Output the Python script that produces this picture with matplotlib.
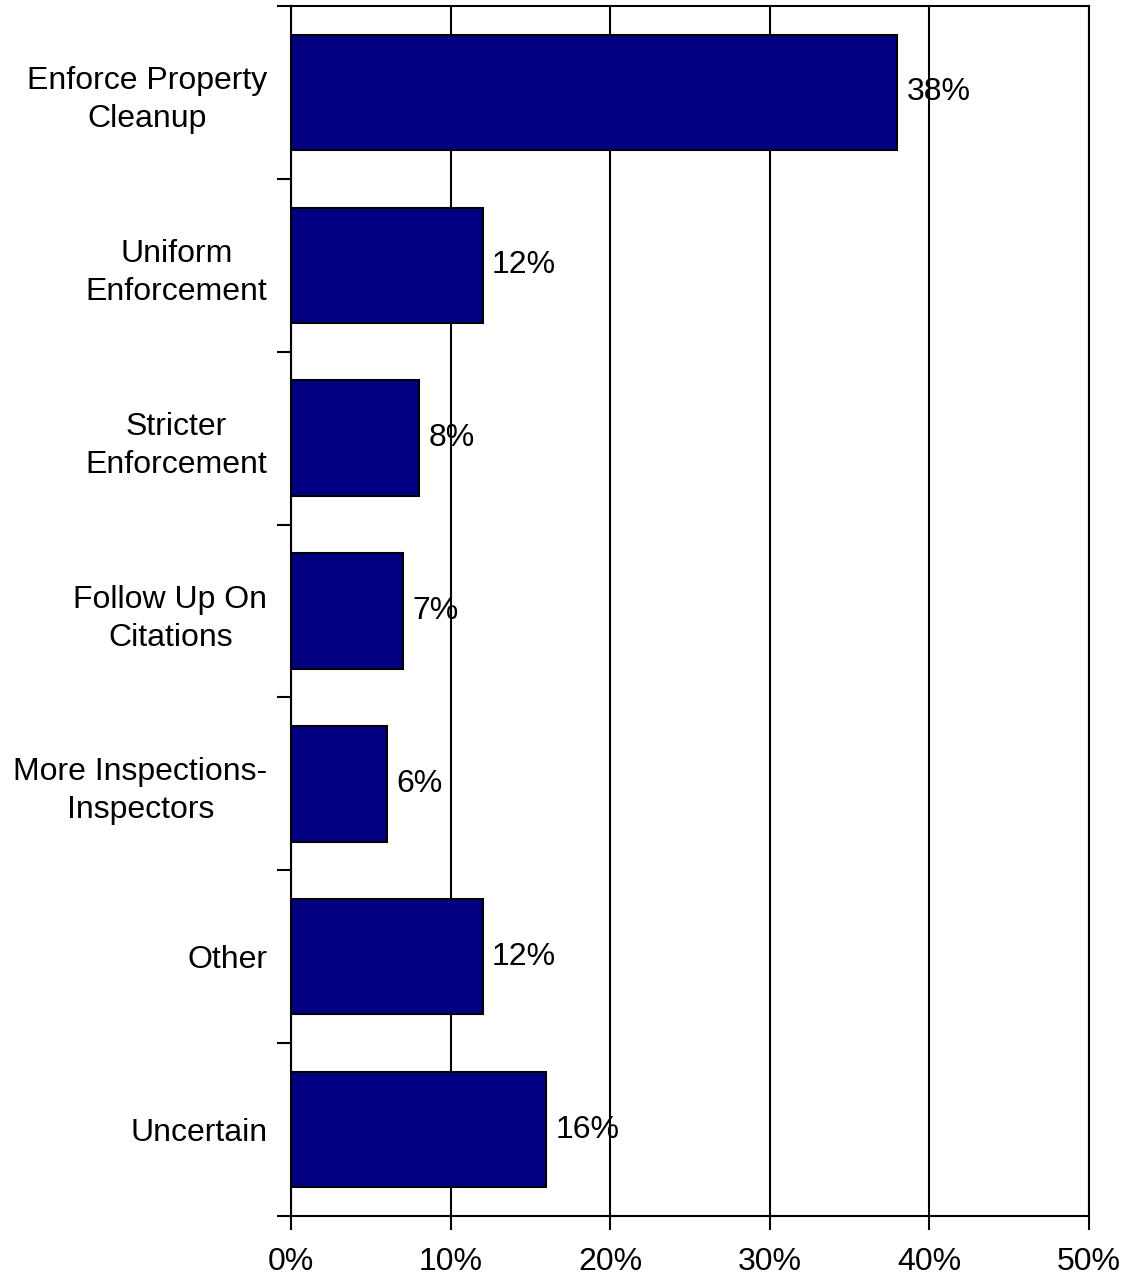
import numpy as np
import matplotlib
matplotlib.use("Agg")
import matplotlib.pyplot as plt
import matplotlib.ticker as ticker

plt.rcParams['font.family'] = ['Liberation Sans', 'DejaVu Sans']

# Survey responses, top to bottom
categories = [
    "Enforce Property\nCleanup",
    "Uniform\nEnforcement",
    "Stricter\nEnforcement",
    "Follow Up On\nCitations",
    "More Inspections-\nInspectors",
    "Other",
    "Uncertain",
]
values = [38, 12, 8, 7, 6, 12, 16]
x_ticks = [0, 10, 20, 30, 40, 50]

FS = 23

fig = plt.figure(figsize=(11.28, 12.81), dpi=100)
ax = fig.add_axes([291 / 1128, 1 - 1216 / 1281, 798 / 1128, 1210 / 1281])

pos = np.arange(len(categories))
ax.barh(pos, values, height=0.667, color="#000080", edgecolor="black",
        linewidth=1.5, zorder=3)

for p, v in zip(pos, values):
    ax.text(v + 0.6, p, f"{v}%", va="center", ha="left", fontsize=FS, zorder=4)

ax.set_xlim(0, 50)
ax.set_ylim(len(categories) - 0.5, -0.5)
ax.set_xticks(x_ticks)
ax.xaxis.set_major_formatter(ticker.FuncFormatter(lambda x, _: f"{int(x)}%"))
ax.grid(axis="x", color="black", linewidth=1.5, zorder=1)

ax.set_yticks(pos)
ax.set_yticklabels(categories, multialignment="center", linespacing=1.35)
ax.set_yticks(np.arange(-0.5, len(categories)), minor=True)
ax.tick_params(axis="y", which="major", length=0, pad=17, labelsize=FS)
ax.tick_params(axis="y", which="minor", length=10, width=1.5, direction="out")
ax.tick_params(axis="x", length=10, width=1.5, direction="out", pad=12, labelsize=FS)

for s in ax.spines.values():
    s.set_linewidth(1.5)

fig.savefig("out.png", dpi=100)
